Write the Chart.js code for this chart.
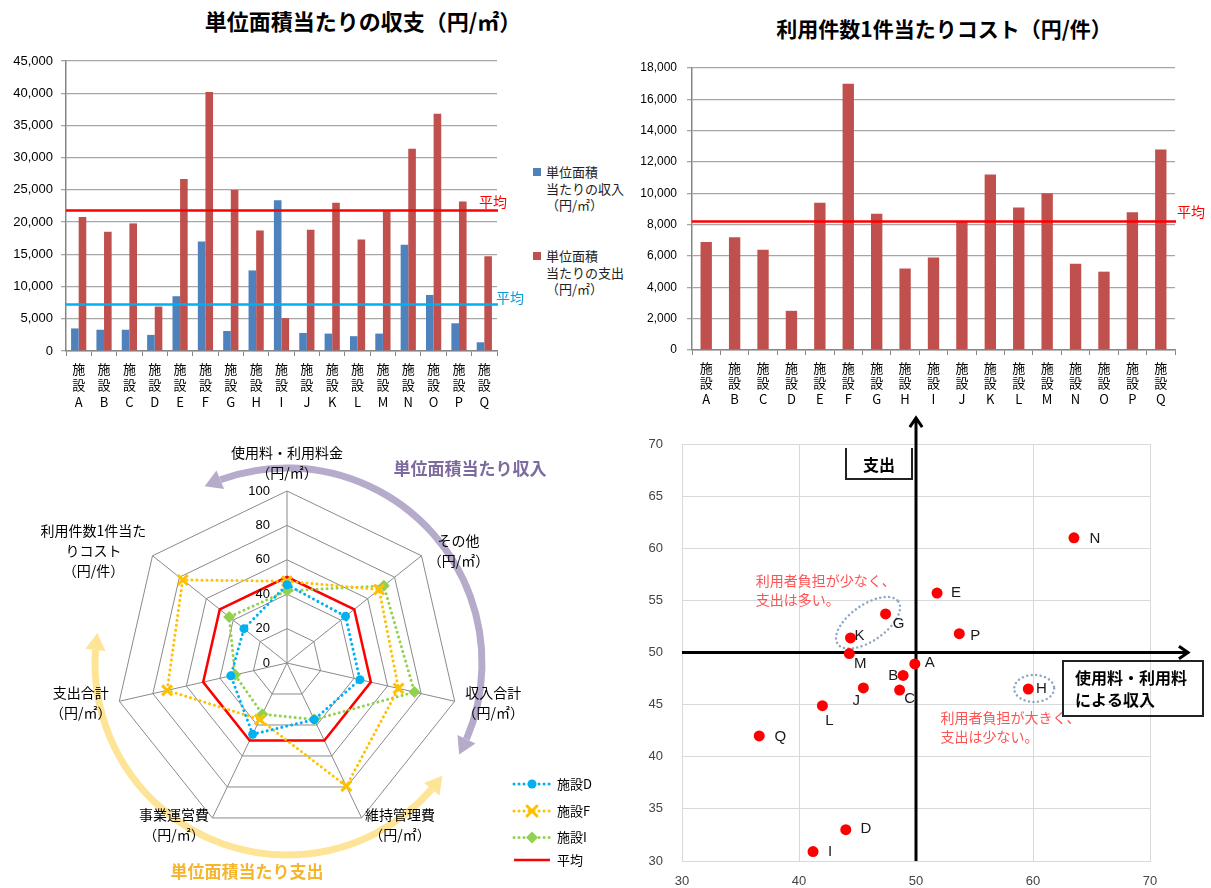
<!DOCTYPE html>
<html>
<head>
<meta charset="utf-8">
<script src="https://cdn.jsdelivr.net/npm/chart.js@4.4.0/dist/chart.umd.min.js"></script>
<style>
  body { margin: 0; width: 1211px; height: 888px; background: #fff; position: relative; overflow: hidden;
         font-family: "Noto Sans CJK JP", sans-serif; }
  canvas { position: absolute; }
  .title { position: absolute; font-weight: bold; font-size: 22px; white-space: nowrap; color: #000;
           transform: translate(-50%, -50%); }
  .leg { position: absolute; font-size: 13px; line-height: 16.5px; color: #222; white-space: nowrap; }
  .leg i { position: absolute; left: -13px; top: 4px; width: 8px; height: 8px; }
</style>
</head>
<body>
<div class="title" style="left:363px;top:20px">単位面積当たりの収支（円/㎡）</div>
<div class="title" style="left:944px;top:28px;font-size:21px">利用件数1件当たりコスト（円/件）</div>

<canvas id="areaChart" width="530" height="380" style="left:0;top:40px"></canvas>
<div class="leg" style="left:546px;top:164px"><i style="background:#4f81bd"></i>単位面積<br>当たりの収入<br>（円/㎡）</div>
<div class="leg" style="left:546px;top:248px"><i style="background:#c0504d"></i>単位面積<br>当たりの支出<br>（円/㎡）</div>

<canvas id="costChart" width="591" height="375" style="left:620px;top:45px"></canvas>
<canvas id="radarChart" width="620" height="463" style="left:0;top:425px"></canvas>
<canvas id="scatterChart" width="571" height="483" style="left:640px;top:405px"></canvas>

<script>
// facilities
const facilities = ["A", "B", "C", "D", "E", "F", "G", "H", "I", "J", "K", "L", "M", "N", "O", "P", "Q"];

// income / expense per unit area (yen/m2)
const incomePerArea = [3500, 3300, 3300, 2500, 8500, 17000, 3100, 12500, 23400, 2800, 2700, 2300, 2700, 16500, 8700, 4300, 1350];
const expensePerArea = [20800, 18500, 19800, 6900, 26700, 40200, 25000, 18700, 5100, 18800, 23000, 17300, 21700, 31400, 36800, 23200, 14700];
const avgIncomePerArea = 7200;
const avgExpensePerArea = 21800;

// cost per use (yen/use)
const costPerUse = [6900, 7200, 6400, 2500, 9400, 17000, 8700, 5200, 5900, 8200, 11200, 9100, 10000, 5500, 5000, 8800, 12800];
const avgCostPerUse = 8200;

// radar (deviation scores)
const radarAxes = [
  ["使用料・利用料金", "（円/㎡）"],
  ["その他", "（円/㎡）"],
  ["収入合計", "（円/㎡）"],
  ["維持管理費", "（円/㎡）"],
  ["事業運営費", "（円/㎡）"],
  ["支出合計", "（円/㎡）"],
  ["利用件数1件当た", "りコスト", "（円/件）"]
];
const radarTicks = [0, 20, 40, 60, 80, 100];
const facilityD = [45.5, 43.5, 43.5, 36.5, 46, 33.5, 32];
const facilityF = [47.5, 68.5, 66.5, 79.5, 36.5, 71.5, 77.5];
const facilityI = [42, 72, 76, 36.5, 33, 31, 43];
const radarAverage = [50, 50, 50, 50, 50, 50, 50];

// scatter: income score (x) vs expense score (y)
const scatterNames = ["A", "B", "C", "D", "E", "G", "H", "I", "J", "K", "L", "M", "N", "P", "Q"];
const incomeScore = [49.9, 48.9, 48.6, 44.0, 51.8, 47.4, 59.6, 41.2, 45.5, 44.4, 42.0, 44.3, 63.5, 53.7, 36.6];
const expenseScore = [48.9, 47.8, 46.4, 33.0, 55.7, 53.7, 46.5, 30.9, 46.6, 51.4, 44.9, 49.9, 61.0, 51.8, 42.0];

// label placement for scatter names (px from the dot)
const labelOffset = {
  A: [15, -1], B: [-10, 0], C: [10, 9], D: [20, -1], E: [19, 0], G: [13, 10], H: [13, 0], I: [17, 0],
  J: [-7, 13], K: [9, -2], L: [7, 15], M: [11, 10], N: [21, 1], P: [16, 2], Q: [21, 1]
};

const JP = "'Noto Sans CJK JP', sans-serif";
Chart.defaults.font.family = "'Liberation Sans', 'Noto Sans CJK JP', sans-serif";
Chart.defaults.color = "#000";

/**
 * horizontal average lines with a "平均" label at the right end
 */
function averageLines(items) {
  return {
    id: "averageLines",
    afterDatasetsDraw(chart) {
      const { ctx, chartArea, scales } = chart;
      items.forEach(item => {
        const py = scales.y.getPixelForValue(item.value);
        ctx.save();
        ctx.strokeStyle = item.color;
        ctx.lineWidth = 2.5;
        ctx.beginPath();
        ctx.moveTo(chartArea.left, py);
        ctx.lineTo(chartArea.right + 1, py);
        ctx.stroke();
        ctx.fillStyle = item.textColor || item.color;
        ctx.font = "14px " + JP;
        ctx.textBaseline = "middle";
        ctx.fillText("平均", chartArea.right + item.dx, py + item.dy);
        ctx.restore();
      });
    }
  };
}

function barTickLabels() {
  return facilities.map(f => ["施", "設", f]);
}

// income / expense bar chart
new Chart(document.getElementById("areaChart"), {
  type: "bar",
  data: {
    labels: barTickLabels(),
    datasets: [
      { label: "単位面積当たりの収入", data: incomePerArea, backgroundColor: "#4f81bd" },
      { label: "単位面積当たりの支出", data: expensePerArea, backgroundColor: "#c0504d" }
    ]
  },
  options: {
    responsive: false, animation: false, devicePixelRatio: 1,
    layout: { padding: { left: 0, right: 33, top: 21, bottom: 0 } },
    datasets: { bar: { categoryPercentage: 0.6, barPercentage: 1 } },
    plugins: { legend: { display: false }, tooltip: { enabled: false } },
    scales: {
      x: {
        grid: { drawOnChartArea: false, tickLength: 5, color: "#868686", offset: true },
        border: { color: "#868686", width: 1.5 },
        ticks: { font: { family: JP, size: 13, lineHeight: 1.25 }, padding: 5, maxRotation: 0, autoSkip: false },
        afterFit: s => { s.height = 69; }
      },
      y: {
        min: 0, max: 45000,
        ticks: { stepSize: 5000, callback: v => v.toLocaleString("en-US"), font: { size: 13 }, padding: 8 },
        grid: { color: "#a6a6a6", lineWidth: 1.3, tickLength: 5 },
        border: { color: "#868686", width: 1.5 },
        afterFit: s => { s.width = 66; }
      }
    }
  },
  plugins: [averageLines([
    { value: avgExpensePerArea, color: "#ff0000", dx: -18, dy: -9 },
    { value: avgIncomePerArea, color: "#00b0f0", textColor: "#0a9ad8", dx: -1, dy: -7 }
  ])]
});

// cost per use bar chart
new Chart(document.getElementById("costChart"), {
  type: "bar",
  data: {
    labels: barTickLabels(),
    datasets: [{ label: "利用件数1件当たりコスト", data: costPerUse, backgroundColor: "#c0504d" }]
  },
  options: {
    responsive: false, animation: false, devicePixelRatio: 1,
    layout: { padding: { left: 0, right: 36, top: 23, bottom: 0 } },
    datasets: { bar: { categoryPercentage: 0.4, barPercentage: 1 } },
    plugins: { legend: { display: false }, tooltip: { enabled: false } },
    scales: {
      x: {
        grid: { drawOnChartArea: false, tickLength: 5, color: "#868686", offset: true },
        border: { color: "#868686", width: 1.5 },
        ticks: { font: { family: JP, size: 13, lineHeight: 1.2 }, padding: 5, maxRotation: 0, autoSkip: false },
        afterFit: s => { s.height = 70; }
      },
      y: {
        min: 0, max: 18000,
        ticks: { stepSize: 2000, callback: v => v.toLocaleString("en-US"), font: { size: 12 }, padding: 10 },
        grid: { color: "#a6a6a6", lineWidth: 1.3, tickLength: 5 },
        border: { color: "#868686", width: 1.5 },
        afterFit: s => { s.width = 72; }
      }
    }
  },
  plugins: [averageLines([{ value: avgCostPerUse, color: "#ff0000", dx: 2, dy: -10 }])]
});

/**
 * thick curved arrow around the radar with heads on both ends
 */
function curvedArrow(ctx, cx, cy, radius, a0, a1, color) {
  const head = 17, half = 10;
  const da = head / radius;
  ctx.save();
  ctx.strokeStyle = color;
  ctx.fillStyle = color;
  ctx.lineWidth = 7;
  ctx.beginPath();
  ctx.arc(cx, cy, radius, a0 + da, a1 - da);
  ctx.stroke();
  [[a0, a0 + da], [a1, a1 - da]].forEach(([tipA, baseA]) => {
    const tx = cx + radius * Math.cos(tipA), ty = cy + radius * Math.sin(tipA);
    const bx = cx + radius * Math.cos(baseA), by = cy + radius * Math.sin(baseA);
    const len = Math.hypot(tx - bx, ty - by);
    const nx = -(ty - by) / len, ny = (tx - bx) / len;
    ctx.beginPath();
    ctx.moveTo(tx, ty);
    ctx.lineTo(bx + nx * half, by + ny * half);
    ctx.lineTo(bx - nx * half, by - ny * half);
    ctx.closePath();
    ctx.fill();
  });
  ctx.restore();
}

function drawMarker(ctx, style, x, y, color) {
  ctx.save();
  ctx.fillStyle = color;
  ctx.strokeStyle = color;
  ctx.lineWidth = 3;
  ctx.beginPath();
  if (style === "circle") {
    ctx.arc(x, y, 4.5, 0, Math.PI * 2);
    ctx.fill();
  } else if (style === "crossRot") {
    ctx.moveTo(x - 5, y - 5); ctx.lineTo(x + 5, y + 5);
    ctx.moveTo(x + 5, y - 5); ctx.lineTo(x - 5, y + 5);
    ctx.stroke();
  } else if (style === "rectRot") {
    ctx.moveTo(x, y - 6); ctx.lineTo(x + 6, y); ctx.lineTo(x, y + 6); ctx.lineTo(x - 6, y);
    ctx.closePath();
    ctx.fill();
  }
  ctx.restore();
}

const radarDecor = {
  id: "radarDecor",
  beforeDatasetsDraw(chart) {
    // curved arrows sit under the texts
    const { ctx } = chart;
    const r = chart.scales.r;
    const deg = Math.PI / 180;
    curvedArrow(ctx, r.xCenter, r.yCenter, 195, -115 * deg, 28 * deg, "#b7abcb");
    curvedArrow(ctx, r.xCenter, r.yCenter, 192, 36 * deg, 189 * deg, "#fee497");
  },
  afterDraw(chart) {
    const { ctx } = chart;
    const r = chart.scales.r;
    const cx = r.xCenter, cy = r.yCenter, R = r.drawingArea;

    // tick labels left of the vertical axis
    ctx.save();
    ctx.font = "13px 'Liberation Sans'";
    ctx.fillStyle = "#000";
    ctx.textAlign = "right";
    ctx.textBaseline = "middle";
    radarTicks.forEach(v => ctx.fillText(String(v), cx - 17, cy - r.getDistanceFromCenterForValue(v)));

    // axis titles
    ctx.font = "14px " + JP;
    ctx.textAlign = "center";
    radarAxes.forEach((lines, i) => {
      const p = r.getPointPosition(i, R + 8);
      const w = Math.max(...lines.map(t => ctx.measureText(t).width));
      let mid;
      if (i === 0) mid = p.x;
      else if (p.x > cx) mid = p.x + w / 2;
      else mid = p.x - w / 2;
      const n = lines.length;
      lines.forEach((t, k) => {
        const y = i === 0 ? p.y - 10 - 20 * (n - 1 - k) : p.y + (k - (n - 1) / 2) * 20;
        ctx.fillText(t, mid, y);
      });
    });
    ctx.restore();

    // arrow captions
    ctx.save();
    ctx.font = "bold 17px " + JP;
    ctx.textAlign = "center";
    ctx.textBaseline = "middle";
    ctx.fillStyle = "#7d6a9e";
    ctx.fillText("単位面積当たり収入", cx + 183, cy - 194);
    ctx.fillStyle = "#f5b52c";
    ctx.fillText("単位面積当たり支出", cx - 40, cy + 209);
    ctx.restore();

    // legend
    const rows = [359, 386, 412.5, 435];
    ctx.save();
    ctx.font = "13px " + JP;
    ctx.textBaseline = "middle";
    chart.data.datasets.forEach((ds, i) => {
      const y = rows[i];
      ctx.strokeStyle = ds.borderColor;
      ctx.lineWidth = ds.borderWidth;
      ctx.lineCap = ds.borderCapStyle || "butt";
      ctx.setLineDash(ds.borderDash || []);
      ctx.beginPath();
      ctx.moveTo(514, y);
      ctx.lineTo(550, y);
      ctx.stroke();
      ctx.setLineDash([]);
      if (ds.pointRadius > 0) drawMarker(ctx, ds.pointStyle, 532, y, ds.borderColor);
      ctx.fillStyle = "#000";
      ctx.fillText(ds.label, 557, y);
    });
    ctx.restore();
  }
};

const dotted = { borderWidth: 3, borderDash: [0.01, 5], borderCapStyle: "round", fill: false };

new Chart(document.getElementById("radarChart"), {
  type: "radar",
  data: {
    labels: radarAxes.map(a => a.join("")),
    datasets: [
      { label: "施設D", data: facilityD, borderColor: "#00b0f0", pointStyle: "circle", pointRadius: 4.5,
        pointBackgroundColor: "#00b0f0", pointBorderWidth: 0, ...dotted },
      { label: "施設F", data: facilityF, borderColor: "#ffc000", pointStyle: "crossRot", pointRadius: 7,
        pointBorderColor: "#ffc000", pointBorderWidth: 3, ...dotted },
      { label: "施設I", data: facilityI, borderColor: "#92d050", pointStyle: "rectRot", pointRadius: 6,
        pointBackgroundColor: "#92d050", pointBorderWidth: 0, ...dotted },
      { label: "平均", data: radarAverage, borderColor: "#ff0000", borderWidth: 2.5, pointRadius: 0, fill: false }
    ]
  },
  options: {
    responsive: false, animation: false, devicePixelRatio: 1,
    layout: { padding: { left: 115, top: 66, right: 161, bottom: 53 } },
    elements: { line: { tension: 0 } },
    plugins: { legend: { display: false }, tooltip: { enabled: false } },
    scales: {
      r: {
        min: 0, max: 100,
        ticks: { display: false, stepSize: 20 },
        pointLabels: { display: false },
        grid: { color: "#8a8a8a", lineWidth: 1 },
        angleLines: { color: "#8a8a8a", lineWidth: 1 }
      }
    }
  },
  plugins: [radarDecor]
});

/**
 * quadrant axes, boxes, notes, ellipses and names for the scatter chart
 */
function arrowLine(ctx, x0, y0, x1, y1) {
  const a = Math.atan2(y1 - y0, x1 - x0);
  ctx.beginPath();
  ctx.moveTo(x0, y0);
  ctx.lineTo(x1, y1);
  ctx.moveTo(x1 - 11 * Math.cos(a - 0.6), y1 - 11 * Math.sin(a - 0.6));
  ctx.lineTo(x1, y1);
  ctx.lineTo(x1 - 11 * Math.cos(a + 0.6), y1 - 11 * Math.sin(a + 0.6));
  ctx.stroke();
}

const scatterDecor = {
  id: "scatterDecor",
  beforeDatasetsDraw(chart) {
    const { ctx, chartArea: a, scales: { x, y } } = chart;
    const px = x.getPixelForValue(50), py = y.getPixelForValue(50);
    ctx.save();
    ctx.strokeStyle = "#000";
    ctx.lineWidth = 3;
    arrowLine(ctx, px, a.bottom, px, a.top - 26);
    arrowLine(ctx, a.left, py, a.right + 38, py);

    // dotted ellipses
    ctx.strokeStyle = "#8ea7c6";
    ctx.lineWidth = 2.5;
    ctx.lineCap = "round";
    ctx.setLineDash([0.01, 4.5]);
    ctx.beginPath();
    ctx.ellipse(x.getPixelForValue(45.9), y.getPixelForValue(52.85), 37, 18, -35 * Math.PI / 180, 0, Math.PI * 2);
    ctx.stroke();
    ctx.beginPath();
    ctx.ellipse(x.getPixelForValue(60.1), y.getPixelForValue(46.55), 20, 13.5, 0, 0, Math.PI * 2);
    ctx.stroke();
    ctx.restore();
  },
  afterDatasetsDraw(chart) {
    const { ctx, chartArea: a, scales: { x, y } } = chart;
    const px = x.getPixelForValue(50);
    ctx.save();

    // boxes
    ctx.strokeStyle = "#222";
    ctx.lineWidth = 2;
    const bx0 = px - 70, bx1 = px - 4, by1 = a.top + 35;
    ctx.beginPath();
    ctx.moveTo(bx0, a.top + 4); ctx.lineTo(bx0, by1); ctx.lineTo(bx1, by1); ctx.lineTo(bx1, a.top + 4);
    ctx.stroke();
    ctx.strokeRect(a.right - 87, a.top + 217, 140, 55);

    ctx.fillStyle = "#000";
    ctx.font = "bold 16px " + JP;
    ctx.textBaseline = "middle";
    ctx.textAlign = "center";
    ctx.fillText("支出", (bx0 + bx1) / 2, a.top + 21);
    ctx.textAlign = "left";
    ctx.fillText("使用料・利用料", a.right - 75, a.top + 234);
    ctx.fillText("による収入", a.right - 75, a.top + 256);

    // notes
    ctx.fillStyle = "#ff5252";
    ctx.font = "14px " + JP;
    ctx.fillText("利用者負担が少なく、", x.getPixelForValue(36.3), a.top + 137);
    ctx.fillText("支出は多い。", x.getPixelForValue(36.3), a.top + 156);
    ctx.fillText("利用者負担が大きく、", x.getPixelForValue(52.1), a.top + 274);
    ctx.fillText("支出は少ない。", x.getPixelForValue(52.1), a.top + 293);

    // facility names
    ctx.fillStyle = "#1a1a1a";
    ctx.font = "15px 'Liberation Sans'";
    ctx.textAlign = "center";
    scatterNames.forEach((name, i) => {
      const off = labelOffset[name];
      ctx.fillText(name, x.getPixelForValue(incomeScore[i]) + off[0], y.getPixelForValue(expenseScore[i]) + off[1]);
    });
    ctx.restore();
  }
};

new Chart(document.getElementById("scatterChart"), {
  type: "scatter",
  data: {
    datasets: [{
      label: "施設",
      data: scatterNames.map((n, i) => ({ x: incomeScore[i], y: expenseScore[i] })),
      backgroundColor: "#ff0000",
      pointRadius: 5.5,
      pointBorderWidth: 0
    }]
  },
  options: {
    responsive: false, animation: false, devicePixelRatio: 1,
    layout: { padding: { left: 0, right: 61, top: 39, bottom: 0 } },
    plugins: { legend: { display: false }, tooltip: { enabled: false } },
    scales: {
      x: {
        min: 30, max: 70,
        ticks: { stepSize: 10, font: { size: 13 }, color: "#444", padding: 13 },
        grid: { color: "#d9d9d9", drawTicks: false },
        border: { color: "#d9d9d9" },
        afterFit: s => { s.height = 27; }
      },
      y: {
        min: 30, max: 70,
        ticks: { stepSize: 5, font: { size: 13 }, color: "#444", padding: 19 },
        grid: { color: "#d9d9d9", drawTicks: false },
        border: { color: "#d9d9d9" },
        afterFit: s => { s.width = 42; }
      }
    }
  },
  plugins: [scatterDecor]
});
</script>
</body>
</html>
